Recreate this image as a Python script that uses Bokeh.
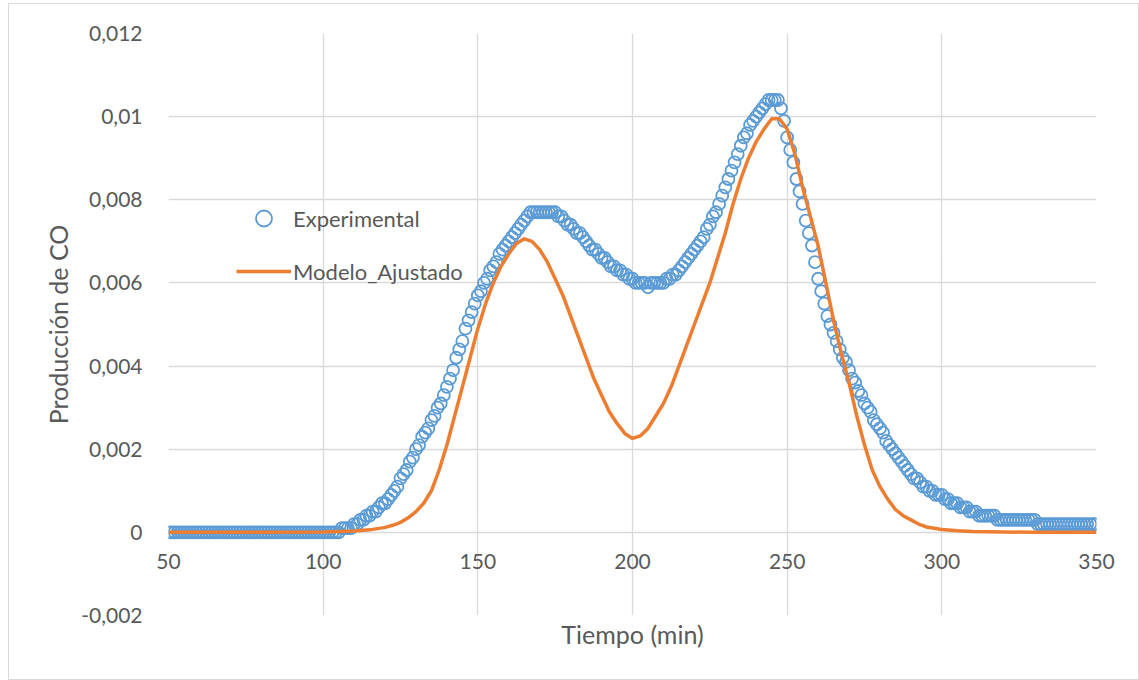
from bokeh.plotting import figure
from bokeh.models import (Range1d, FixedTicker, CustomJSTickFormatter,
                          Legend, LegendItem)
from bokeh.embed import file_html
from bokeh.resources import INLINE

# ---------------- data ----------------
tiempo_exp = list(range(50, 351))
co_exp = (
    [0.0] * 50 +
    [0, 0, 0, 0, 0, 0, 0.0001, 0.0001, 0.0001, 0.0001] +                                  # 100-109
    [0.0002, 0.0002, 0.0003, 0.0003, 0.0004, 0.0004, 0.0005, 0.0005, 0.0006, 0.0007] +    # 110-119
    [0.0007, 0.0008, 0.0009, 0.0010, 0.0011, 0.0013, 0.0014, 0.0015, 0.0017, 0.0018] +    # 120-129
    [0.0020, 0.0021, 0.0023, 0.0024, 0.0025, 0.0027, 0.0028, 0.0030, 0.0031, 0.0033] +    # 130-139
    [0.0035, 0.0037, 0.0039, 0.0042, 0.0044, 0.0046, 0.0049, 0.0051, 0.0053, 0.0055] +    # 140-149
    [0.0057, 0.0058, 0.0060, 0.0061, 0.0063, 0.0064, 0.0065, 0.0067, 0.0068, 0.0069] +    # 150-159
    [0.0070, 0.0071, 0.0072, 0.0073, 0.0074, 0.0075, 0.0076, 0.0077, 0.0077, 0.0077] +    # 160-169
    [0.0077, 0.0077, 0.0077, 0.0077, 0.0077, 0.0077, 0.0076, 0.0076, 0.0075, 0.0074] +    # 170-179
    [0.0074, 0.0073, 0.0072, 0.0072, 0.0071, 0.0070, 0.0069, 0.0068, 0.0068, 0.0067] +    # 180-189
    [0.0066, 0.0066, 0.0065, 0.0064, 0.0064, 0.0063, 0.0063, 0.0062, 0.0062, 0.0061] +    # 190-199
    [0.0061, 0.0060, 0.0060, 0.0060, 0.0060, 0.0059, 0.0060, 0.0060, 0.0060, 0.0060] +    # 200-209
    [0.0060, 0.0061, 0.0061, 0.0062, 0.0062, 0.0063, 0.0064, 0.0065, 0.0066, 0.0067] +    # 210-219
    [0.0068, 0.0069, 0.0070, 0.0071, 0.0073, 0.0074, 0.0076, 0.0077, 0.0079, 0.0081] +    # 220-229
    [0.0083, 0.0085, 0.0087, 0.0089, 0.0091, 0.0093, 0.0095, 0.0096, 0.0098, 0.0099] +    # 230-239
    [0.0100, 0.0101, 0.0102, 0.0103, 0.0104, 0.0104, 0.0104, 0.0104, 0.0102, 0.0099] +    # 240-249
    [0.0095, 0.0092, 0.0089, 0.0085, 0.0082, 0.0079, 0.0075, 0.0072, 0.0069, 0.0065] +    # 250-259
    [0.0061, 0.0058, 0.0055, 0.0052, 0.0050, 0.0048, 0.0046, 0.0044, 0.0042, 0.0041] +    # 260-269
    [0.0039, 0.0037, 0.0036, 0.0034, 0.0033, 0.0031, 0.0030, 0.0029, 0.0027, 0.0026] +    # 270-279
    [0.0025, 0.0024, 0.0022, 0.0021, 0.0020, 0.0019, 0.0018, 0.0017, 0.0016, 0.0015] +    # 280-289
    [0.0014, 0.0013, 0.0013, 0.0012, 0.0011, 0.0011, 0.0010, 0.0010, 0.0009, 0.0009] +    # 290-299
    [0.0009, 0.0008, 0.0008, 0.0007, 0.0007, 0.0007, 0.0006, 0.0006, 0.0006, 0.0005] +    # 300-309
    [0.0005, 0.0005, 0.0004, 0.0004, 0.0004, 0.0004, 0.0004, 0.0004, 0.0003, 0.0003] +    # 310-319
    [0.0003] * 10 +                                                                       # 320-329
    [0.0003] + [0.0002] * 9 +                                                             # 330-339
    [0.0002] * 11                                                                         # 340-350
)

tiempo_mod = [50, 80, 100, 105, 110, 115, 120, 122.5, 125, 127.5, 130, 132.5, 135, 137.5,
              140, 142.5, 145, 147.5, 150, 152.5, 155, 157.5, 160, 162.5, 165, 167.5,
              170, 172.5, 175, 177.5, 180, 182.5, 185, 187.5, 190, 192.5, 195, 197.5,
              200, 202.5, 205, 207.5, 210, 212.5, 215, 217.5, 220, 222.5, 225, 227.5,
              230, 232.5, 235, 237.5, 240, 242.5, 245, 247.5, 250, 252.5, 255, 257.5,
              260, 262.5, 265, 267.5, 270, 272.5, 275, 277.5, 280, 282.5, 285, 287.5,
              290, 292.5, 295, 297.5, 300, 305, 310, 320, 330, 350]
co_mod = [0.0, 0.0, 0.00001, 0.00002, 0.00003, 0.00006, 0.00012, 0.00017, 0.00024, 0.00035,
          0.0005, 0.0007, 0.0010, 0.0015,
          0.0021, 0.0028, 0.0035, 0.0042, 0.0049, 0.0055, 0.0060, 0.0064, 0.0067, 0.00695,
          0.00706, 0.00700,
          0.0068, 0.0065, 0.0061, 0.0057, 0.0052, 0.0047, 0.0042, 0.0037, 0.0033, 0.0029,
          0.00262, 0.00238,
          0.00226, 0.00232, 0.0025, 0.0028, 0.0031, 0.0035, 0.0040, 0.0045, 0.0050, 0.0055,
          0.0060, 0.0066,
          0.0072, 0.0079, 0.0085, 0.0090, 0.0094, 0.0097, 0.00995, 0.00995, 0.0097, 0.0091,
          0.0083, 0.0076,
          0.0069, 0.0060, 0.0051, 0.0043, 0.0036, 0.0028, 0.0021, 0.0015, 0.0011, 0.0008,
          0.00055, 0.0004,
          0.0003, 0.0002, 0.00013, 0.0001, 0.00007, 0.00004, 0.00002, 0.00001, 0.0, 0.0]

x_ticks = [50, 100, 150, 200, 250, 300, 350]
y_ticks = [-0.002, 0.0, 0.002, 0.004, 0.006, 0.008, 0.010, 0.012]

FONT = "Lato"
GRAY_TXT = "#595959"
GRID = "#d9d9d9"
BLUE = "#5B9BD5"
ORANGE = "#ED7D31"
TICK_FS = "21px"
TITLE_FS = "25px"

p = figure(width=1131, height=677, output_backend="svg", toolbar_location=None,
           x_range=Range1d(50, 350), y_range=Range1d(-0.002, 0.012),
           min_border_left=159, min_border_right=44, min_border_top=29, min_border_bottom=66)
p.styles = {"margin-left": "8px", "margin-top": "3px", "border": "1px solid #d9d9d9"}
p.outline_line_color = None
p.background_fill_color = "white"
p.border_fill_color = "white"

# x axis: tick labels pulled up to sit under the y = 0 crossing, title below the plot area
xa = p.xaxis[0]
xa.ticker = FixedTicker(ticks=x_ticks)
xa.axis_line_color = None
xa.major_tick_line_color = None
xa.minor_tick_line_color = None
xa.major_tick_out = 0
xa.major_tick_in = 0
xa.major_label_text_font = FONT
xa.major_label_text_font_size = TICK_FS
xa.major_label_text_color = GRAY_TXT
xa.major_label_standoff = -62
xa.axis_label = "Tiempo (min)"
xa.axis_label_text_font = FONT
xa.axis_label_text_font_style = "normal"
xa.axis_label_text_font_size = TITLE_FS
xa.axis_label_text_color = GRAY_TXT
xa.axis_label_standoff = 47

ya = p.yaxis[0]
ya.ticker = FixedTicker(ticks=y_ticks)
ya.formatter = CustomJSTickFormatter(
    code="var s = parseFloat(tick.toFixed(6)).toString(); return s.replace('.', ',');")
ya.axis_line_color = None
ya.major_tick_line_color = None
ya.minor_tick_line_color = None
ya.major_tick_out = 0
ya.major_label_text_font = FONT
ya.major_label_text_font_size = TICK_FS
ya.major_label_text_color = GRAY_TXT
ya.major_label_standoff = 26
ya.axis_label = "Producción de CO"
ya.axis_label_text_font = FONT
ya.axis_label_text_font_style = "normal"
ya.axis_label_text_font_size = TITLE_FS
ya.axis_label_text_color = GRAY_TXT
ya.axis_label_standoff = 5

p.xgrid.ticker = FixedTicker(ticks=x_ticks)
p.ygrid.ticker = FixedTicker(ticks=y_ticks)
p.xgrid.grid_line_color = GRID
p.ygrid.grid_line_color = GRID
p.xgrid.grid_line_width = 1.3
p.ygrid.grid_line_width = 1.3

r_exp = p.scatter(tiempo_exp, co_exp, marker="circle", size=12, fill_color=None,
                  line_color=BLUE, line_width=1.8)
r_mod = p.line(tiempo_mod, co_mod, line_color=ORANGE, line_width=3.5)

legend = Legend(items=[LegendItem(label="Experimental", renderers=[r_exp]),
                       LegendItem(label="Modelo_Ajustado", renderers=[r_mod])],
                location=(68, 324), orientation="vertical")
legend.padding = 0
legend.margin = 0
legend.spacing = 13
legend.glyph_height = 40
legend.label_height = 40
legend.glyph_width = 55
legend.label_standoff = 2
legend.border_line_color = None
legend.background_fill_alpha = 0
legend.label_text_font = FONT
legend.label_text_font_size = "22px"
legend.label_text_color = GRAY_TXT
p.add_layout(legend, "center")

open("out.html", "w").write(file_html(p, INLINE))
